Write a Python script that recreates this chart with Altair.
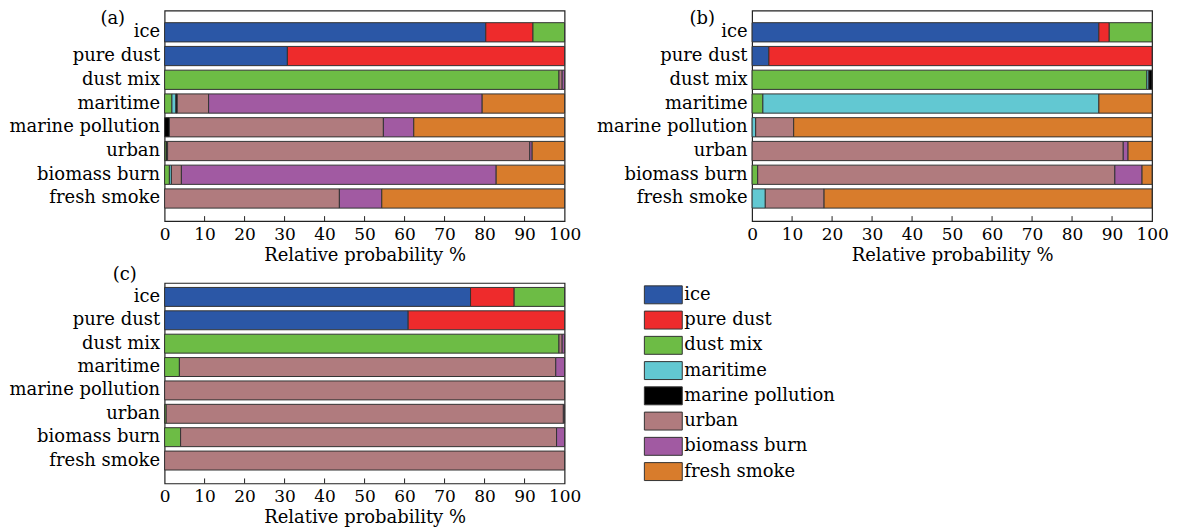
import altair as alt
import pandas as pd

categories = ["ice", "pure dust", "dust mix", "maritime", "marine pollution",
              "urban", "biomass burn", "fresh smoke"]
types = ["ice", "pure dust", "dust mix", "maritime", "marine pollution",
         "urban", "biomass burn", "fresh smoke"]
colors = ["#2B57A6", "#EE2B2C", "#6DBC45", "#62C8D2", "#000000",
          "#B07B7E", "#A15AA2", "#D87C2C"]
tick_values = [0, 10, 20, 30, 40, 50, 60, 70, 80, 90, 100]
inner_ticks = [10, 20, 30, 40, 50, 60, 70, 80, 90]

# rows = categories, columns = types (percent)
panel_a = [
    [80.3, 11.8, 7.9, 0, 0, 0, 0, 0],
    [30.7, 69.3, 0, 0, 0, 0, 0, 0],
    [0, 0, 98.6, 0, 0, 0.8, 0.6, 0],
    [0, 0, 1.83, 1.0, 0.33, 7.84, 68.4, 20.6],
    [0, 0, 0, 0, 1.2, 53.5, 7.6, 37.7],
    [0, 0, 0.4, 0, 0.35, 90.55, 0.6, 8.1],
    [0, 0, 1.2, 0.5, 0, 2.5, 78.7, 17.1],
    [0, 0, 0, 0, 0, 43.7, 10.6, 45.7],
]
panel_b = [
    [86.7, 2.6, 10.7, 0, 0, 0, 0, 0],
    [4.2, 95.8, 0, 0, 0, 0, 0, 0],
    [0, 0, 98.7, 0.5, 0.8, 0, 0, 0],
    [0, 0, 2.7, 84.0, 0, 0, 0, 13.3],
    [0, 0, 0, 0.9, 0, 9.5, 0, 89.6],
    [0, 0, 0, 0, 0, 92.8, 1.2, 6.0],
    [0, 0, 1.4, 0, 0, 89.3, 6.8, 2.5],
    [0, 0, 0, 3.3, 0, 14.7, 0, 82.0],
]
panel_c = [
    [76.5, 10.9, 12.6, 0, 0, 0, 0, 0],
    [60.9, 39.1, 0, 0, 0, 0, 0, 0],
    [0, 0, 98.6, 0, 0, 0.8, 0.6, 0],
    [0, 0, 3.7, 0, 0, 94.1, 2.2, 0],
    [0, 0, 0, 0, 0, 100.0, 0, 0],
    [0, 0, 0.4, 0, 0, 99.3, 0.3, 0],
    [0, 0, 4.0, 0, 0, 94.0, 2.0, 0],
    [0, 0, 0, 0, 0, 100.0, 0, 0],
]

FONT = "DejaVu Serif"
W = 401


def make_df(vals):
    rows = []
    for ci, cat in enumerate(categories):
        for ti, t in enumerate(types):
            v = vals[ci][ti]
            if v > 0:
                rows.append({"category": cat, "type": t, "idx": ti, "value": v})
    return pd.DataFrame(rows)


def x_axis():
    return alt.Axis(values=tick_values, title="Relative probability %",
                    ticks=False, grid=False, domain=False,
                    labelFlush=False, labelPadding=5, titlePadding=4,
                    format="d")


def panel(vals, label, height, po, align, lx, ly):
    df = make_df(vals)
    xscale = alt.Scale(domain=[0, 100], nice=False, zero=True)
    bars = alt.Chart(df).mark_bar(stroke="#333333", strokeWidth=1).encode(
        x=alt.X("value:Q", stack="zero", scale=xscale, axis=x_axis()),
        y=alt.Y("category:N", sort=categories,
                scale=alt.Scale(paddingInner=0.19, paddingOuter=po, align=align),
                axis=alt.Axis(title=None, ticks=False, domain=False, labelPadding=5)),
        color=alt.Color("type:N", scale=alt.Scale(domain=types, range=colors), legend=None),
        order=alt.Order("idx:Q"),
    )
    tdf = pd.DataFrame({"value": inner_ticks})
    tick_marks = alt.Chart(tdf).mark_rule(color="#222222", strokeWidth=1).encode(
        x=alt.X("value:Q", scale=xscale, axis=x_axis()),
        y=alt.value(height),
        y2=alt.value(height - 5),
    )
    ldf = pd.DataFrame({"lab": [label]})
    lab = alt.Chart(ldf).mark_text(fontSize=18, font=FONT, color="black",
                                   baseline="top", align="center").encode(
        text="lab:N", x=alt.value(lx), y=alt.value(ly))
    return alt.layer(bars, tick_marks, lab).properties(width=W, height=height)


pa = panel(panel_a, "(a)", 211, 0.527, 0.48, -52, -1)
pb = panel(panel_b, "(b)", 211, 0.527, 0.48, -50, -1)
pc = panel(panel_c, "(c)", 201, 0.383, 0.25, -40, -17)

leg_df = pd.DataFrame({"type": types, "idx": list(range(len(types)))})
leg_y = alt.Y("type:N", sort=types, axis=None,
              scale=alt.Scale(paddingInner=0.29, paddingOuter=0.115))
leg_rect = alt.Chart(leg_df).mark_bar(stroke="#333333", strokeWidth=1).encode(
    y=leg_y, x=alt.value(-108), x2=alt.value(-70),
    color=alt.Color("type:N", scale=alt.Scale(domain=types, range=colors), legend=None),
)
leg_text = alt.Chart(leg_df).mark_text(fontSize=18, font=FONT, color="black",
                                       align="left", baseline="middle").encode(
    y=leg_y, x=alt.value(-68), text="type:N")
legend = alt.layer(leg_rect, leg_text).properties(
    width=100, height=201, view=alt.ViewBackground(stroke=None))

chart = alt.concat(pa, pb, pc, legend, columns=2,
                   spacing={"row": 62, "column": 188},
                   bounds="flush", align="each").properties(
    padding={"left": 0, "top": 0, "right": 5, "bottom": 5}
).configure_view(
    stroke="#222222", strokeWidth=1.2
).configure_axis(
    labelFont=FONT, titleFont=FONT, labelFontSize=17, titleFontSize=18,
    labelColor="black", titleColor="black", titleFontWeight="normal"
).configure_axisY(
    labelFontSize=18
)

chart.save("out.html", embed_options={"renderer": "svg", "actions": False})
